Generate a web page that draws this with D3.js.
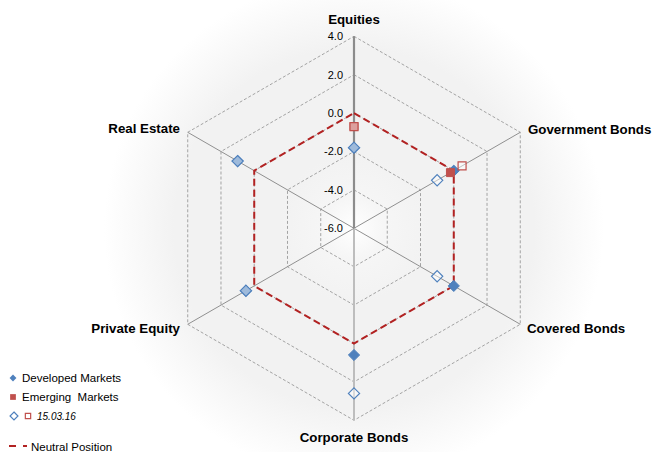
<!DOCTYPE html>
<html>
<head>
<meta charset="utf-8">
<script src="https://cdn.jsdelivr.net/npm/d3@7/dist/d3.min.js"></script>
<style>
  html, body { margin: 0; padding: 0; background: #fff; }
  svg { display: block; font-family: "Liberation Sans", Arial, sans-serif; }
  text { white-space: pre; }
</style>
</head>
<body>
<svg id="chart" width="652" height="452"></svg>
<script>
// Asset classes, clockwise from the top
const categories = ["Equities", "Government Bonds", "Covered Bonds", "Corporate Bonds", "Private Equity", "Real Estate"];
// Current positioning
const developed = [-1.8, 0.0, 0.0, 0.6, 0.5, 1.0];
const emerging  = [-0.7, -0.2, null, null, null, null];
// Positioning as of 15.03.16
const developedPrev = [-1.8, -1.0, -1.0, 2.6, 0.5, 1.0];
const emergingPrev  = [-0.7, 0.5, null, null, null, null];
// Neutral position
const neutral = [0, 0, 0, 0, 0, 0];
const ticks = [-6, -4, -2, 0, 2, 4];
const tickLabels = ["-6.0", "-4.0", "-2.0", "0.0", "2.0", "4.0"];

const svg = d3.select("#chart");
const cx = 354, cy = 228.3, R = 192;
const blue = "#4F81BD", red = "#C0504D", neutralRed = "#B22222";

const r = d3.scaleLinear().domain([-6, 4]).range([0, R]);
const angle = d3.scaleLinear().domain([0, categories.length]).range([-Math.PI / 2, 1.5 * Math.PI]);
const pt = (i, v) => [cx + r(v) * Math.cos(angle(i)), cy + r(v) * Math.sin(angle(i))];

// Plot-area backdrop: soft radial shading
const defs = svg.append("defs");
const grad = defs.append("radialGradient").attr("id", "bg")
  .attr("gradientUnits", "userSpaceOnUse").attr("cx", cx).attr("cy", cy).attr("r", 250);
[[0, "#ffffff"], [0.12, "#f6f6f6"], [0.3, "#f2f2f2"], [0.72, "#f2f2f2"], [1, "#ffffff"]]
  .forEach(([o, c]) => grad.append("stop").attr("offset", o).attr("stop-color", c));
svg.append("rect").attr("width", 652).attr("height", 452).attr("fill", "url(#bg)");

const line = d3.line();
const ring = v => line(categories.map((_, i) => pt(i, v))) + "Z";

// Grid rings
svg.append("g").selectAll("path").data(ticks.slice(1)).join("path")
  .attr("d", d => ring(d))
  .attr("fill", "none").attr("stroke", "#9a9a9a").attr("stroke-width", 0.9)
  .attr("stroke-dasharray", "3,2");

// Spokes
svg.append("g").selectAll("line").data(categories).join("line")
  .attr("x1", cx).attr("y1", cy)
  .attr("x2", (d, i) => pt(i, 4)[0]).attr("y2", (d, i) => pt(i, 4)[1])
  .attr("stroke", (d, i) => i === 0 ? "#8c8c8c" : (i === 3 ? "#bdbdbd" : "#909090"))
  .attr("stroke-width", (d, i) => i === 0 ? 2.2 : (i === 3 ? 2 : 1));

// Value axis labels
svg.append("g").selectAll("text").data(ticks).join("text")
  .attr("x", cx - 11).attr("y", d => cy - r(d)).attr("dy", "0.35em")
  .attr("text-anchor", "end").attr("font-size", 11).attr("fill", "#000")
  .text((d, i) => tickLabels[i]);

// Category labels
const labelPos = [
  { x: 354, y: 19, a: "middle" },
  { x: 528, y: 129, a: "start" },
  { x: 527, y: 328, a: "start" },
  { x: 354, y: 437, a: "middle" },
  { x: 180, y: 328, a: "end" },
  { x: 180, y: 128, a: "end" }
];
svg.append("g").selectAll("text").data(categories).join("text")
  .attr("x", (d, i) => labelPos[i].x).attr("y", (d, i) => labelPos[i].y).attr("dy", "0.35em")
  .attr("text-anchor", (d, i) => labelPos[i].a)
  .attr("font-size", 13.3).attr("font-weight", "bold").attr("fill", "#000")
  .text(d => d);

// Neutral position
svg.append("path")
  .attr("d", line(neutral.map((v, i) => pt(i, v))) + "Z")
  .attr("fill", "none").attr("stroke", neutralRed).attr("stroke-width", 2)
  .attr("stroke-dasharray", "7,4");

const diamond = d3.symbol().type(d3.symbolDiamond2);
const square = d3.symbol().type(d3.symbolSquare2);

function markers(values, shape, size, fill, stroke, sw) {
  const data = values.map((v, i) => ({ v, i })).filter(d => d.v !== null);
  svg.append("g").selectAll("path").data(data).join("path")
    .attr("d", shape.size(size)())
    .attr("transform", d => `translate(${pt(d.i, d.v)})`)
    .attr("fill", fill.c).attr("fill-opacity", fill.o)
    .attr("stroke", stroke).attr("stroke-width", sw);
}

// Current positions
markers(developed, diamond, 80, { c: blue, o: 1 }, blue, 1);
markers(emerging, square, 81, { c: red, o: 1 }, red, 1);
// Previous positions (translucent fill lightens markers they overlap)
markers(developedPrev, diamond, 80, { c: "#ffffff", o: 0.45 }, blue, 1.2);
markers(emergingPrev, square, 81, { c: "#ffffff", o: 0.45 }, red, 1.2);

// Legend
const lg = svg.append("g").attr("font-size", 11.5).attr("fill", "#000");
lg.append("path").attr("d", diamond.size(30)()).attr("transform", "translate(13,378)").attr("fill", blue);
lg.append("text").attr("x", 22).attr("y", 378).attr("dy", "0.35em").text("Developed Markets");
lg.append("path").attr("d", square.size(42)()).attr("transform", "translate(13,397)").attr("fill", red);
lg.append("text").attr("x", 22).attr("y", 397).attr("dy", "0.35em").text("Emerging  Markets");
lg.append("path").attr("d", diamond.size(40)()).attr("transform", "translate(14,416)")
  .attr("fill", "none").attr("stroke", blue).attr("stroke-width", 1.2);
lg.append("path").attr("d", square.size(36)()).attr("transform", "translate(28,416)")
  .attr("fill", "none").attr("stroke", red).attr("stroke-width", 1.2);
lg.append("text").attr("x", 37).attr("y", 416).attr("dy", "0.35em")
  .attr("font-size", 10).attr("font-style", "italic").text("15.03.16");
lg.append("line").attr("x1", 9).attr("x2", 16).attr("y1", 446).attr("y2", 446)
  .attr("stroke", neutralRed).attr("stroke-width", 2);
lg.append("line").attr("x1", 23).attr("x2", 27).attr("y1", 446).attr("y2", 446)
  .attr("stroke", neutralRed).attr("stroke-width", 2);
lg.append("text").attr("x", 31).attr("y", 447).attr("dy", "0.35em").text("Neutral Position");
</script>
</body>
</html>
